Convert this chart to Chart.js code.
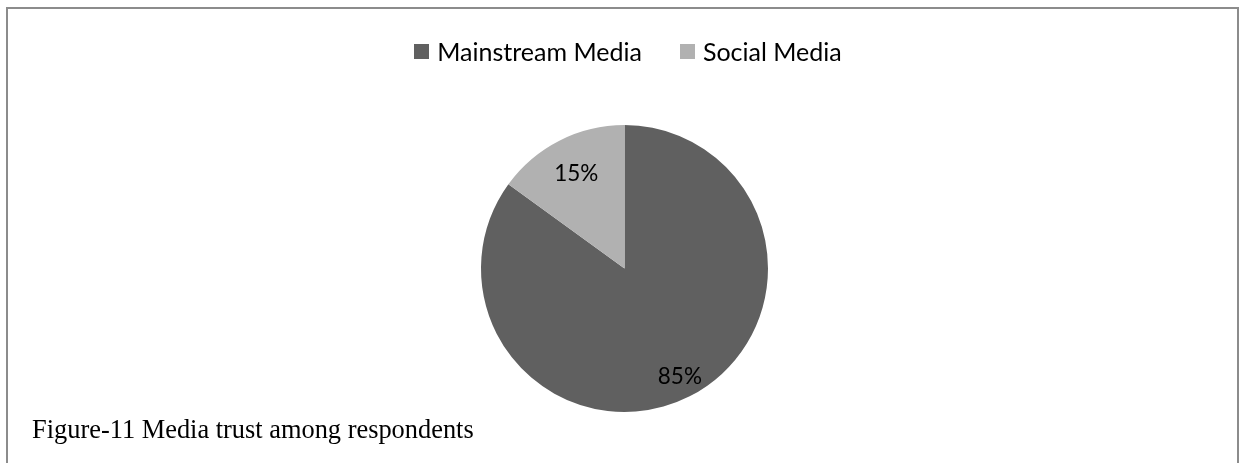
<!DOCTYPE html>
<html>
<head>
<meta charset="utf-8">
<script src="https://cdn.jsdelivr.net/npm/chart.js@4"></script>
<style>
  html, body { margin: 0; padding: 0; background: #fff; }
  #wrap { position: relative; width: 1244px; height: 463px; overflow: hidden; }
  #frame {
    position: absolute; left: 6px; top: 7px; width: 1233px; height: 470px;
    border: 2px solid #8c8c8c; border-bottom: none; box-sizing: border-box;
  }
  #chart { position: absolute; left: 0; top: 0; }
  #legend {
    position: absolute; left: 0; top: 36px; width: 1256px;
    display: flex; justify-content: center; align-items: center;
    font-family: Lato, "Open Sans", sans-serif; font-size: 25px; color: #000;
  }
  .item { display: flex; align-items: center; margin: 0 19px; }
  .swatch { width: 15px; height: 15px; margin-right: 8px; }
  #caption {
    position: absolute; left: 32px; top: 414px;
    font-family: "Liberation Serif", "Times New Roman", serif; font-size: 26.4px; color: #000;
    white-space: nowrap;
  }
</style>
</head>
<body>
<div id="wrap">
  <div id="frame"></div>
  <canvas id="chart" width="1244" height="463"></canvas>
  <div id="legend"></div>
  <div id="caption">Figure-11 Media trust among respondents</div>
</div>
<script>
// Share of respondents trusting each media type (%)
const categories = ["Mainstream Media", "Social Media"];
const trustShare = [85, 15];
const sliceColors = ["#606060", "#b1b1b1"];

// Legend built from the same categories and colours
const legendEl = document.getElementById("legend");
categories.forEach((name, i) => {
  const item = document.createElement("div");
  item.className = "item";
  const sw = document.createElement("span");
  sw.className = "swatch";
  sw.style.background = sliceColors[i];
  const txt = document.createElement("span");
  txt.textContent = name;
  item.appendChild(sw);
  item.appendChild(txt);
  legendEl.appendChild(item);
});

// Percentage labels placed inside each slice along its mid-angle;
// the large slice gets its label pushed a little further out.
const labelDepth = [0.85, 0.74];
const sliceLabels = {
  id: "sliceLabels",
  afterDatasetsDraw(chart) {
    const ctx = chart.ctx;
    const meta = chart.getDatasetMeta(0);
    ctx.save();
    ctx.font = "22.5px Lato, 'Open Sans', sans-serif";
    ctx.fillStyle = "#000";
    ctx.textAlign = "center";
    ctx.textBaseline = "middle";
    meta.data.forEach((arc, i) => {
      const p = arc.getProps(["x", "y", "startAngle", "endAngle", "outerRadius"], true);
      const mid = (p.startAngle + p.endAngle) / 2;
      const r = p.outerRadius * labelDepth[i];
      ctx.fillText(trustShare[i] + "%", p.x + Math.cos(mid) * r, p.y + Math.sin(mid) * r);
    });
    ctx.restore();
  }
};

new Chart(document.getElementById("chart"), {
  type: "pie",
  data: {
    labels: categories,
    datasets: [{
      data: trustShare,
      backgroundColor: sliceColors,
      borderWidth: 0
    }]
  },
  options: {
    responsive: false,
    animation: false,
    layout: { padding: { top: 125, bottom: 51, left: 481, right: 476 } },
    plugins: {
      legend: { display: false },
      tooltip: { enabled: false }
    }
  },
  plugins: [sliceLabels]
});
</script>
</body>
</html>
